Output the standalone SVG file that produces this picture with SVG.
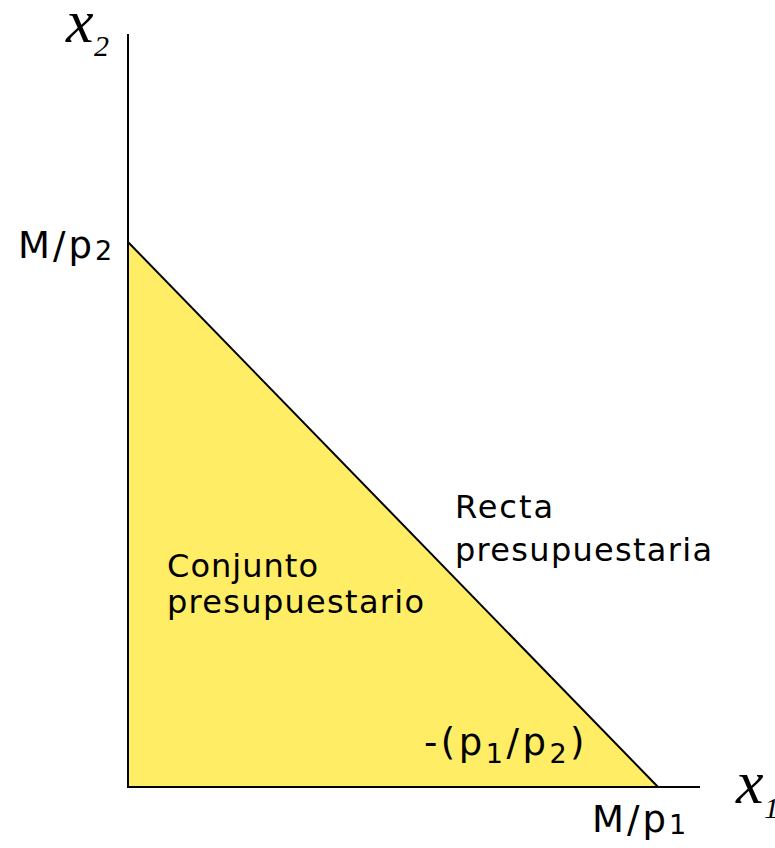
<svg xmlns="http://www.w3.org/2000/svg" width="775" height="848" viewBox="0 0 775 848">
<style>
.lbl{font-family:"DejaVu Sans","Noto Sans",sans-serif;font-size:32px;fill:#000}
.big{font-size:37px}
.sub{font-size:27px}
.var{font-family:"Liberation Serif","DejaVu Serif",serif;font-style:italic;fill:#000}
.ax{stroke:#000;stroke-width:2;fill:none}
</style>
<rect width="775" height="848" fill="#fff"/>
<g id="budget-set">
<polygon points="128,242 128,787 658,787" fill="#FFED66"/>
</g>
<g id="connectors">
<line class="ax" x1="128" y1="34" x2="128" y2="788"/>
<line class="ax" x1="127" y1="787" x2="700" y2="787"/>
<line class="ax" x1="128" y1="242" x2="658" y2="787"/>
</g>
<g id="axis-x2">
<text class="var" x="66" y="42" font-size="62">x</text>
<text class="var" x="94" y="56" font-size="30" font-style="normal">2</text>
</g>
<g id="axis-x1">
<text class="var" x="736" y="803" font-size="62">x</text>
<text class="var" x="764" y="818" font-size="30" font-style="normal">1</text>
</g>
<g id="label-mp2">
<text class="lbl big" x="18" y="258" letter-spacing="3">M/p<tspan class="sub" dy="2">2</tspan></text>
</g>
<g id="label-mp1">
<text class="lbl big" x="592" y="832" letter-spacing="3">M/p<tspan class="sub" dy="2">1</tspan></text>
</g>
<g id="label-recta">
<text class="lbl" x="455" y="518" textLength="98">Recta</text>
<text class="lbl" x="455" y="561" textLength="257">presupuestaria</text>
</g>
<g id="label-conjunto">
<text class="lbl" x="167" y="577" textLength="151">Conjunto</text>
<text class="lbl" x="167" y="613" textLength="257">presupuestario</text>
</g>
<g id="label-slope">
<text class="lbl big" x="424" y="755" letter-spacing="3.5">-(p<tspan class="sub" dy="8">1</tspan><tspan dy="-8">/p</tspan><tspan class="sub" dy="8">2</tspan><tspan dy="-8">)</tspan></text>
</g>
</svg>
